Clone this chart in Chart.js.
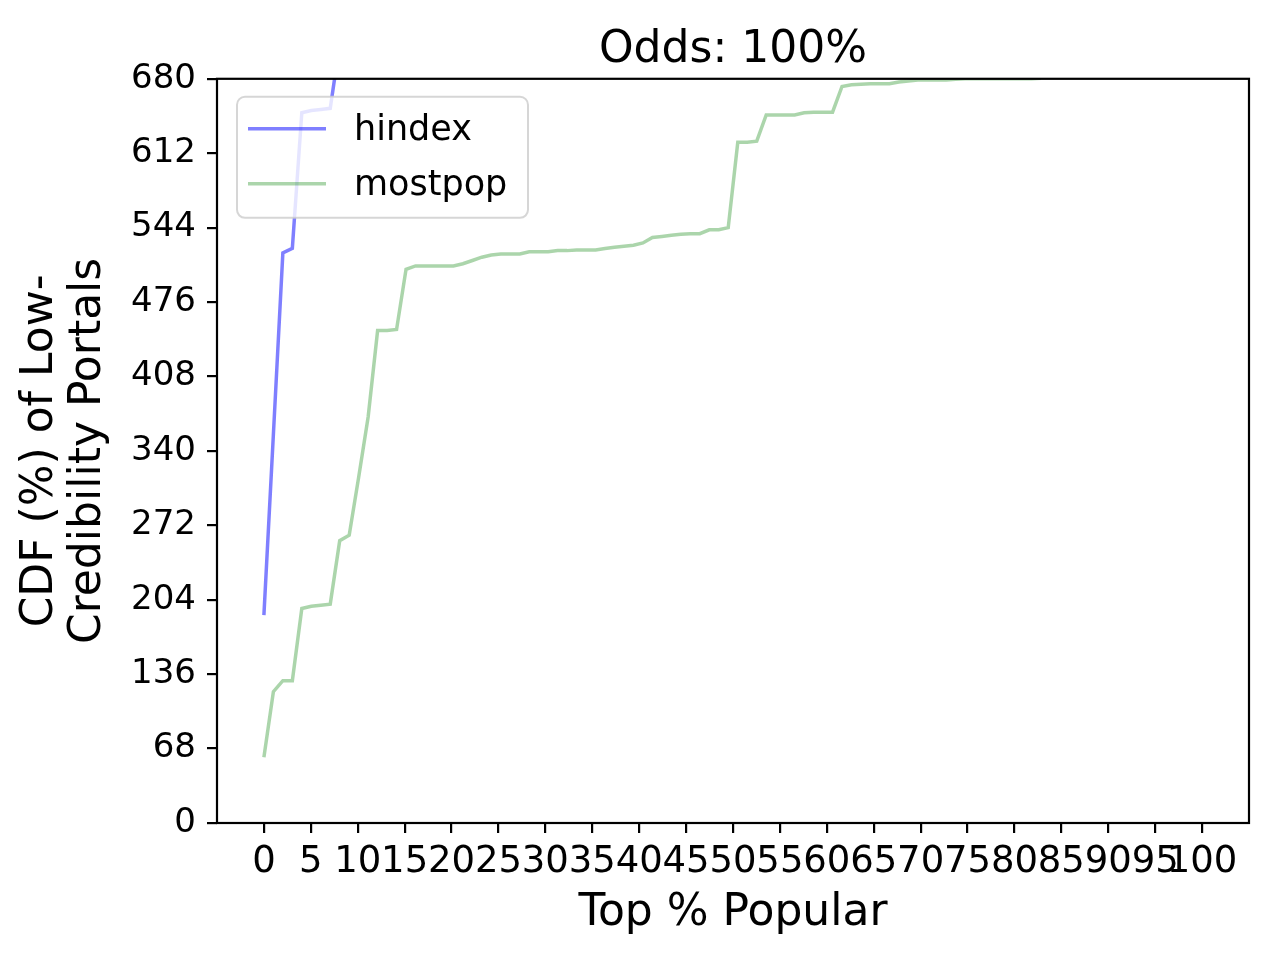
<!DOCTYPE html>
<html lang="en">

<head>
    <meta charset="UTF-8">
    <title>Odds: 100%</title>
    <script src="https://cdn.jsdelivr.net/npm/chart.js"></script>
    <style>
        body {
            margin: 0;
            background: #fff;
        }

        .container {
            width: 1280px;
            height: 960px;
        }
    </style>
</head>

<body>
    <div class="container">
        <canvas id="grafico" width="1280" height="960"></canvas>
    </div>
    <script>
        // values (x steps are 100/99 apart)
        const hindexPct = [0, 1.01, 2.02, 3.03, 4.04, 5.05, 6.06, 7.07, 8.08];
        const hindexCdf = [190, 355, 521, 525, 649, 651, 652, 653, 712];

        const mostpopPct = [0, 1.01, 2.02, 3.03, 4.04, 5.05, 6.06, 7.07, 8.08, 9.09,
            10.10, 11.11, 12.12, 13.13, 14.14, 15.15, 16.16, 17.17, 18.18, 19.19,
            20.20, 21.21, 22.22, 23.23, 24.24, 25.25, 26.26, 27.27, 28.28, 29.29,
            30.30, 31.31, 32.32, 33.33, 34.34, 35.35, 36.36, 37.37, 38.38, 39.39,
            40.40, 41.41, 42.42, 43.43, 44.44, 45.45, 46.46, 47.47, 48.48, 49.49,
            50.51, 51.52, 52.53, 53.54, 54.55, 55.56, 56.57, 57.58, 58.59, 59.60,
            60.61, 61.62, 62.63, 63.64, 64.65, 65.66, 66.67, 67.68, 68.69, 69.70,
            70.71, 71.72, 72.73, 73.74, 74.75, 75.76, 76.77, 77.78, 78.79, 79.80,
            80.81, 81.82, 82.83];
        const mostpopCdf = [60, 120, 130, 130, 196, 198, 199, 200, 258, 263,
            316, 371, 450, 450, 451, 506, 509, 509, 509, 509,
            509, 511, 514, 517, 519, 520, 520, 520, 522, 522,
            522, 523, 523, 523.5, 523.5, 523.5, 525, 526, 527, 528,
            530, 535, 536, 537, 538, 538.5, 538.5, 542, 542, 544,
            622, 622, 623, 647, 647, 647, 647, 649, 649.5, 649.5,
            649.5, 673, 674.5, 675, 675.4, 675.4, 675.4, 677, 678, 679,
            679, 679, 679, 679.5, 680, 680, 680, 680, 680, 680,
            680, 680, 680.5];

        const xTicks = [0, 5, 10, 15, 20, 25, 30, 35, 40, 45, 50, 55, 60, 65, 70, 75, 80, 85, 90, 95, 100];
        const yTicks = [0, 68, 136, 204, 272, 340, 408, 476, 544, 612, 680];

        const FONT = 'DejaVu Sans';

        function toPoints(xs, ys) {
            return xs.map((x, i) => ({ x: x, y: ys[i] }));
        }

        // top/right spines plus the legend sitting inside the axes
        const frameAndLegend = {
            id: 'frameAndLegend',
            afterDatasetsDraw(chart) {
                const ctx = chart.ctx;
                const area = chart.chartArea;
                ctx.save();
                ctx.strokeStyle = '#000';
                ctx.lineWidth = 2.2;
                ctx.strokeRect(area.left, area.top, area.right - area.left, area.bottom - area.top);

                const bx = area.left + 20;
                const by = area.top + 18;
                ctx.beginPath();
                ctx.roundRect(bx, by, 291, 121, 8);
                ctx.fillStyle = 'rgba(255,255,255,0.8)';
                ctx.fill();
                ctx.lineWidth = 2;
                ctx.strokeStyle = 'rgba(204,204,204,0.8)';
                ctx.stroke();

                ctx.font = '35px "' + FONT + '"';
                ctx.textBaseline = 'middle';
                ctx.textAlign = 'left';
                chart.data.datasets.forEach((ds, i) => {
                    const ly = by + 34 + i * 55;
                    ctx.beginPath();
                    ctx.moveTo(bx + 11, ly - 2);
                    ctx.lineTo(bx + 89, ly - 2);
                    ctx.strokeStyle = ds.borderColor;
                    ctx.lineWidth = ds.borderWidth;
                    ctx.stroke();
                    ctx.fillStyle = '#000';
                    ctx.fillText(ds.label, bx + 117, ly);
                });
                ctx.restore();
            }
        };

        const ctx = document.getElementById('grafico').getContext('2d');
        new Chart(ctx, {
            type: 'line',
            data: {
                datasets: [
                    {
                        label: 'hindex',
                        data: toPoints(hindexPct, hindexCdf),
                        borderColor: 'rgba(0,0,255,0.5)',
                        borderWidth: 3.5,
                        pointRadius: 0,
                        tension: 0,
                        fill: false
                    },
                    {
                        label: 'mostpop',
                        data: toPoints(mostpopPct, mostpopCdf),
                        borderColor: 'rgba(0,128,0,0.33)',
                        borderWidth: 3.5,
                        pointRadius: 0,
                        tension: 0,
                        fill: false
                    }
                ]
            },
            options: {
                responsive: false,
                animation: false,
                devicePixelRatio: 1,
                layout: {
                    padding: { left: 0, right: 31, top: 0, bottom: 0 }
                },
                plugins: {
                    legend: { display: false },
                    tooltip: { enabled: false },
                    title: {
                        display: true,
                        fullSize: false,
                        text: 'Odds: 100%',
                        color: '#000',
                        font: { family: FONT, size: 44, weight: 'normal', lineHeight: 1.2 },
                        padding: { top: 24, bottom: 2 }
                    }
                },
                scales: {
                    x: {
                        type: 'linear',
                        min: -5,
                        max: 105,
                        afterBuildTicks: scale => {
                            scale.ticks = xTicks.map(v => ({ value: v }));
                        },
                        afterFit: scale => {
                            scale.height = 137;
                        },
                        border: { display: false },
                        grid: {
                            drawOnChartArea: false,
                            drawTicks: true,
                            tickLength: 10,
                            color: '#000',
                            lineWidth: 2.2
                        },
                        ticks: {
                            autoSkip: false,
                            maxRotation: 0,
                            minRotation: 0,
                            padding: 7,
                            color: '#000',
                            font: { family: FONT, size: 37 },
                            callback: v => String(v)
                        },
                        title: {
                            display: true,
                            text: 'Top % Popular',
                            color: '#000',
                            font: { family: FONT, size: 44, lineHeight: 1.1 },
                            padding: { top: 0, bottom: 22 }
                        }
                    },
                    y: {
                        type: 'linear',
                        min: 0,
                        max: 680,
                        afterBuildTicks: scale => {
                            scale.ticks = yTicks.map(v => ({ value: v }));
                        },
                        afterFit: scale => {
                            scale.width = 217;
                        },
                        border: { display: false },
                        grid: {
                            drawOnChartArea: false,
                            drawTicks: true,
                            tickLength: 10,
                            color: '#000',
                            lineWidth: 2.2
                        },
                        ticks: {
                            padding: 11,
                            color: '#000',
                            font: { family: FONT, size: 34 },
                            callback: v => String(v)
                        },
                        title: {
                            display: true,
                            text: ['CDF (%) of Low-', 'Credibility Portals'],
                            color: '#000',
                            font: { family: FONT, size: 44, lineHeight: 1.1 },
                            padding: { top: 16, bottom: 0 }
                        }
                    }
                }
            },
            plugins: [frameAndLegend]
        });
    </script>
</body>

</html>
